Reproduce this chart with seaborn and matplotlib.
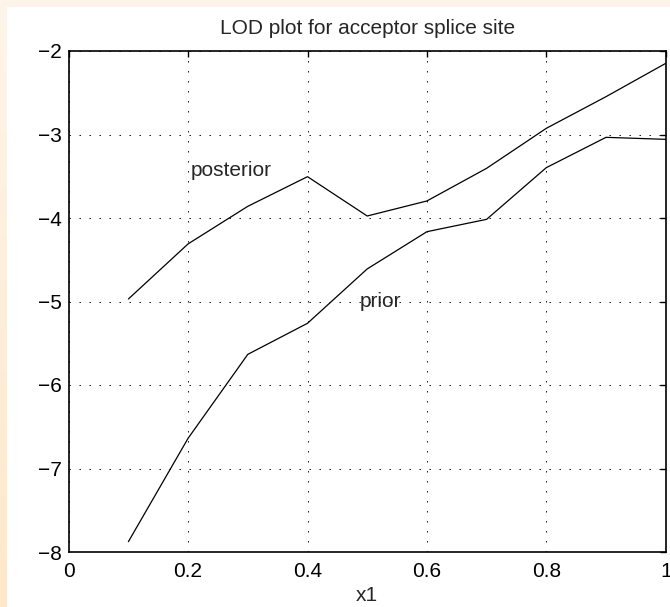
import numpy as np
import pandas as pd
import matplotlib
matplotlib.use("Agg")
import matplotlib.pyplot as plt
import seaborn as sns
from matplotlib.patches import Rectangle

# values
x1 = [0.1, 0.2, 0.3, 0.4, 0.5, 0.6, 0.7, 0.8, 0.9, 1.0]
posterior = [-4.97, -4.31, -3.86, -3.505, -3.976, -3.796, -3.405, -2.926, -2.547, -2.148]
prior = [-7.876, -6.638, -5.633, -5.261, -4.61, -4.164, -4.016, -3.397, -3.034, -3.058]
xticks = [0, 0.2, 0.4, 0.6, 0.8, 1]
xtick_labels = ["0", "0.2", "0.4", "0.6", "0.8", "1"]
yticks = [-8, -7, -6, -5, -4, -3, -2]


def main():
    sns.set_style("white")
    plt.rcParams["font.family"] = ["Liberation Sans", "DejaVu Sans"]
    plt.rcParams["lines.scale_dashes"] = False

    df = pd.DataFrame({"x1": x1 + x1,
                       "LOD": posterior + prior,
                       "series": ["posterior"] * len(x1) + ["prior"] * len(x1)})

    fig = plt.figure(figsize=(6.7, 6.07), dpi=100)
    fig.patch.set_facecolor("white")

    # page background: beige strip with a soft vertical gradient
    bg = fig.add_axes([0, 0, 1, 1], zorder=-10)
    grad = np.linspace(0, 1, 256).reshape(-1, 1)
    cmap = matplotlib.colors.LinearSegmentedColormap.from_list("bg", ["#fdf5ea", "#fde8c9"])
    bg.imshow(grad, aspect="auto", cmap=cmap, extent=[0, 1, 0, 1], origin="upper")
    bg.add_patch(Rectangle((7 / 670, 0), 1, 1 - 7 / 607, color="white", lw=0))
    bg.set_xlim(0, 1)
    bg.set_ylim(0, 1)
    bg.axis("off")

    ax = fig.add_axes([68.7 / 670, 1 - 552 / 607, 597 / 670, 501 / 607])
    ax.set_facecolor("white")
    sns.lineplot(data=df, x="x1", y="LOD", units="series", estimator=None,
                 color="black", lw=0.9, ax=ax, legend=False)

    ax.set_xlim(0, 1)
    ax.set_ylim(-8, -2)
    ax.set_xticks(xticks)
    ax.set_xticklabels(xtick_labels)
    ax.set_yticks(yticks)

    ax.grid(True, color="black", lw=0.7, linestyle=(0, (1, 6.2)))
    ax.tick_params(axis="both", direction="in", length=4, width=1,
                   top=True, right=True, labelsize=15, colors="black")
    ax.tick_params(axis="x", pad=7)
    ax.tick_params(axis="y", pad=5)
    for s in ax.spines.values():
        s.set_visible(True)
        s.set_color("black")
        s.set_linewidth(1.2)

    ax.text(0.205, -3.43, "posterior", fontsize=15, ha="left", va="center")
    ax.text(0.487, -5.0, "prior", fontsize=15, ha="left", va="center")

    ax.set_title("LOD plot for acceptor splice site", fontsize=15, pad=12)
    ax.set_xlabel("x1", fontsize=15, labelpad=4)
    ax.set_ylabel("")

    fig.savefig("out.png", dpi=100)


if __name__ == "__main__":
    main()
